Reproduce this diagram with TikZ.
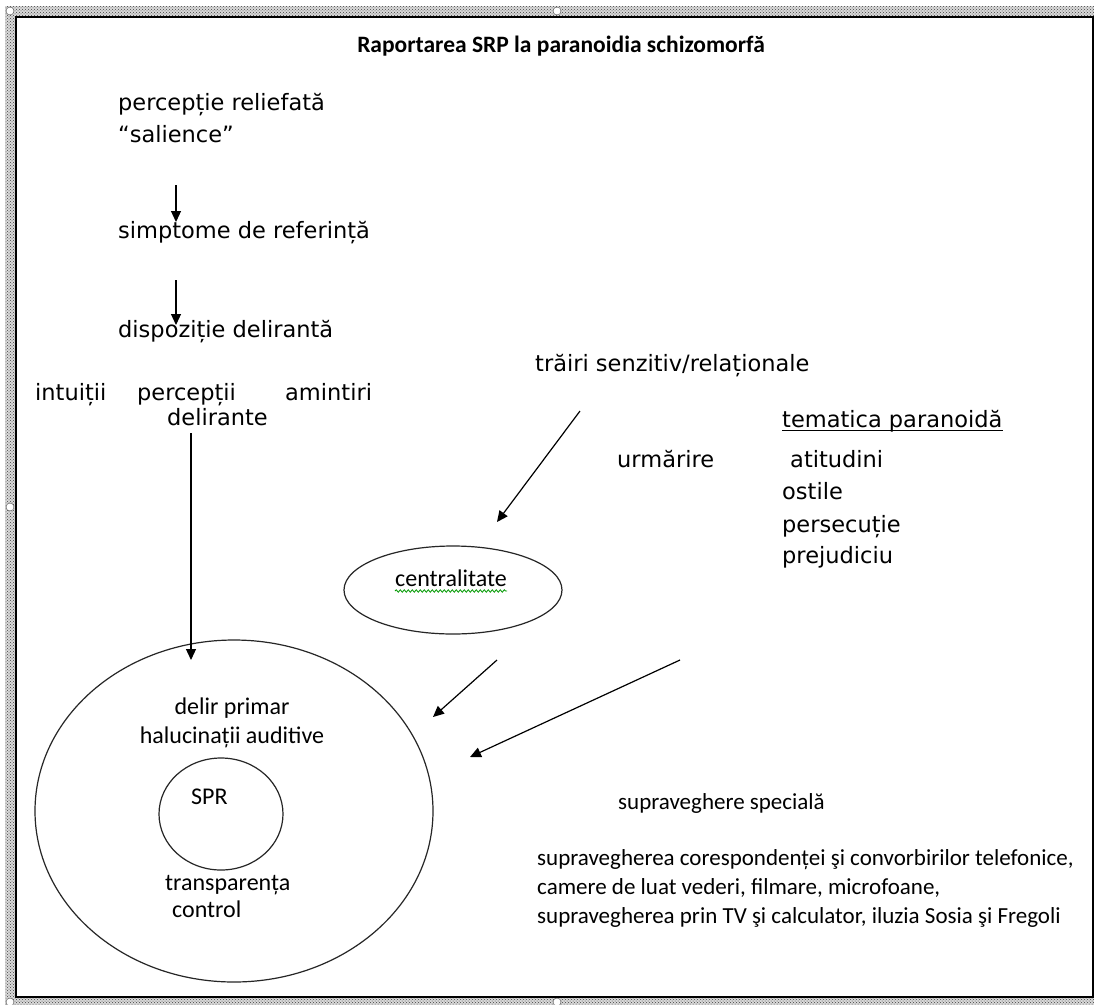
\documentclass[tikz,border=0pt]{standalone}
\usepackage{fontspec}
\setmainfont{DejaVu Sans}
\newfontfamily\calfont{Carlito}
\usetikzlibrary{arrows.meta,patterns,decorations.pathmorphing}
\tikzset{
  vtxt/.style={anchor=base west, inner sep=0pt, font=\fontsize{22.5}{27}\selectfont},
  ctxt/.style={anchor=base west, inner sep=0pt, font=\calfont\fontsize{23}{28}\selectfont},
  itxt/.style={anchor=base, inner sep=0pt, font=\calfont\fontsize{24}{29}\selectfont},
  arr/.style={line width=1.2pt, -{Triangle[length=11pt,width=10pt]}},
  ell/.style={line width=1.2pt, draw=black!85}
}
\begin{document}
\begin{tikzpicture}[x=1pt,y=-1pt]
    \useasboundingbox (0,0) rectangle (1094,1004);
    \clip (0,0) rectangle (1094,1004);
    % selection frame
    \fill[gray!30] (5,6) rectangle (1110,1010);
    \fill[pattern=crosshatch dots, pattern color=black!75] (5,6) rectangle (1110,1010);
    \draw[fill=white, line width=1.2pt] (16,17) rectangle (1093,997);
    \foreach \p in {(10,11),(557,11),(10,507),(10,1002),(557,1002)}
        \draw[fill=white, draw=black!70] \p circle (4pt);

    \node[anchor=base, inner sep=0pt, font=\calfont\bfseries\fontsize{23.5}{28}\selectfont] (title) at (561,52) {Raportarea SRP la paranoidia schizomorfă};

    % left column
    \node[vtxt] (relief) at (118,110) {percepție reliefată};
    \node[vtxt] (salience) at (118,142) {“salience”};
    \node[vtxt] (simptome) at (118,238) {simptome de referință};
    \node[vtxt] (dispozitie) at (118,337) {dispoziție delirantă};
    \node[vtxt] (intuitii) at (35,400) {intuiții};
    \node[vtxt] (perceptii) at (137,400) {percepții};
    \node[vtxt] (amintiri) at (285,400) {amintiri};
    \node[vtxt] (delirante) at (167,425) {delirante};

    % right column
    \node[vtxt] (trairi) at (535,371) {trăiri senzitiv/relaționale};
    \node[vtxt] (urmarire) at (617,467) {urmărire};
    \node[vtxt] (tematica) at (782,427) {tematica paranoidă};
    \draw[line width=0.9pt] ([yshift=-3pt]tematica.base west) -- ([yshift=-3pt]tematica.base east);
    \node[vtxt] (atitudini) at (790,467) {atitudini};
    \node[vtxt] (ostile) at (782,499) {ostile};
    \node[vtxt] (persecutie) at (782,532) {persecuție};
    \node[vtxt] (prejudiciu) at (782,563) {prejudiciu};

    % ellipses
    \draw[ell] (453,590) ellipse [x radius=109pt, y radius=44pt];
    \draw[ell] (234,811) ellipse [x radius=199pt, y radius=171pt];
    \draw[ell] (221,814) ellipse [x radius=62pt, y radius=56pt];

    \node[itxt, anchor=base west] (central) at (395,586) {centralitate};
    \draw[green!60!black, line width=0.8pt, decorate, decoration={snake, amplitude=1.2pt, segment length=4pt}]
        ([yshift=-5pt]central.base west) -- ([yshift=-5pt]central.base east);
    \node[itxt] (delir) at (232,714) {delir primar};
    \node[itxt] (haluc) at (232,743) {halucinații auditive};
    \node[itxt, anchor=base west] (spr) at (191,804) {SPR};
    \node[itxt, anchor=base west] (transp) at (165,890) {transparența};
    \node[itxt, anchor=base west] (control) at (172,917) {control};

    % supraveghere
    \node[ctxt] (special) at (618,809) {supraveghere specială};
    \node[ctxt] (sup1) at (537,865) {supravegherea corespondenței şi convorbirilor telefonice,};
    \node[ctxt] (sup2) at (537,894) {camere de luat vederi, filmare, microfoane,};
    \node[ctxt] (sup3) at (537,923) {supravegherea prin TV şi calculator, iluzia Sosia şi Fregoli};

    % arrows
    \coordinate (a1) at (176,185); \coordinate (b1) at (176,222);
    \coordinate (a2) at (176,280); \coordinate (b2) at (176,325);
    \coordinate (a3) at (191,433); \coordinate (b3) at (191,660);
    \coordinate (a4) at (580,411); \coordinate (b4) at (497,522);
    \coordinate (a5) at (497,660); \coordinate (b5) at (433,717);
    \coordinate (a6) at (680,660); \coordinate (b6) at (470,757);
    \foreach \s/\e in {a1/b1,a2/b2,a3/b3,a4/b4,a5/b5,a6/b6}
        \draw[arr] (\s) -- (\e);
\end{tikzpicture}
\end{document}
